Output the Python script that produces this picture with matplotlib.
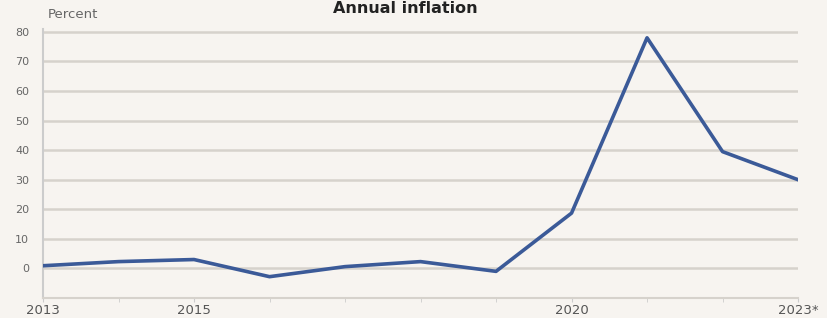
import matplotlib
matplotlib.use("Agg")
import matplotlib.pyplot as plt

years = [2013, 2014, 2015, 2016, 2017, 2018, 2019, 2020, 2021, 2022, 2023]
inflation = [0.9, 2.3, 3.0, -2.8, 0.6, 2.3, -1.0, 18.7, 78.0, 39.5, 30.0]
xtick_pos = [2013, 2015, 2020, 2023]
xtick_labels = ["2013", "2015", "2020", "2023*"]
yticks = [0, 10, 20, 30, 40, 50, 60, 70, 80]

bg = "#f7f4f0"
fig = plt.figure(figsize=(8.27, 3.18), dpi=100, facecolor=bg)
ax = fig.add_axes([0.052, 0.063, 0.913, 0.846], facecolor=bg)

for y in yticks:
    ax.axhline(y, color="#d6d2cc", lw=1.8, zorder=1)

ax.plot(years, inflation, color="#3b5a98", lw=2.6, zorder=3)

ax.set_xlim(2013, 2023)
ax.set_ylim(-10, 81)
ax.set_yticks(yticks)
ax.set_yticklabels([str(v) for v in yticks], fontsize=8, color="#666666")
ax.set_xticks(years, minor=True)
ax.set_xticks(xtick_pos)
ax.set_xticklabels(xtick_labels, fontsize=9.5, color="#555555")
ax.tick_params(axis="x", which="both", length=3, color="#cccccc", pad=1)
ax.tick_params(axis="y", length=0, pad=10)
for s in ["top", "right"]:
    ax.spines[s].set_visible(False)
ax.spines["left"].set_color("#cccccc")
ax.spines["left"].set_linewidth(1.5)
ax.spines["bottom"].set_color("#d6d2cc")
ax.spines["bottom"].set_linewidth(1.5)

fig.text(0.058, 0.935, "Percent", fontsize=9.5, color="#666666", va="bottom")
fig.text(0.49, 0.998, "Annual inflation", fontsize=11.5, fontweight="bold",
         color="#222222", ha="center", va="top")

fig.savefig("out.png", dpi=100, facecolor=bg)
